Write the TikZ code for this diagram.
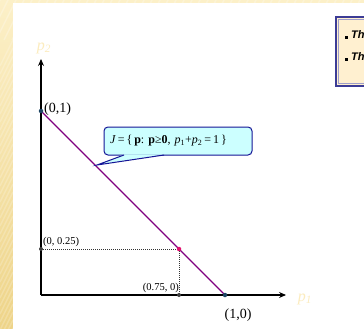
\documentclass[tikz,border=0pt]{standalone}
\usepackage{fontspec}
\setmainfont{Liberation Serif}
\newfontfamily\boxsans{Liberation Sans}
\usetikzlibrary{arrows.meta}
\frenchspacing
\definecolor{goldlight}{RGB}{252,240,200}
\definecolor{golddark}{RGB}{238,212,136}
\definecolor{paletxt}{RGB}{252,236,190}
\definecolor{linepurple}{RGB}{128,0,128}
\definecolor{ptmag}{RGB}{224,16,110}
\definecolor{ptteal}{RGB}{30,70,100}
\definecolor{calloutfill}{RGB}{204,255,255}
\definecolor{calloutdraw}{RGB}{20,20,150}
\definecolor{boxfill}{RGB}{255,240,208}
\definecolor{boxdraw}{RGB}{60,60,150}
\tikzset{
  axis/.style={line width=1.2pt,-{Stealth[length=7pt,width=6pt,inset=2.5pt]}},
  segline/.style={linepurple,line width=1.4pt},
  guide/.style={dash pattern=on 1pt off 1pt,line width=1pt,black!80},
  dotpt/.style={circle,inner sep=0pt,minimum size=4.5pt},
  lbl/.style={inner sep=1pt,font=\fontsize{14}{16}\selectfont},
  smalllbl/.style={inner sep=1pt,font=\fontsize{10.5}{12}\selectfont},
  axlbl/.style={inner sep=0pt,text=paletxt,font=\fontsize{16}{18}\selectfont\itshape},
  bullettxt/.style={anchor=west,inner sep=0pt,font=\boxsans\bfseries\itshape\fontsize{11}{13}\selectfont},
  calloutbox/.style={draw=calloutdraw,fill=calloutfill,line width=1pt,rounded corners=4pt,text width=136pt,align=left,inner xsep=6pt,minimum height=28pt,inner ysep=2pt,font=\fontsize{12}{14}\selectfont},
}
\begin{document}
\begin{tikzpicture}[x=1pt,y=-1pt]
\useasboundingbox (0,0) rectangle (364,329);
\begin{scope}
\clip (0,0) rectangle (364,329);
% background
\shade[top color=goldlight,bottom color=golddark] (0,0) rectangle (13,329);
\fill[goldlight] (13,0) rectangle (364,3);
\foreach \k in {-40,-32,...,400} {
  \draw[white,opacity=0.25,line width=1.5pt] (\k,0) -- (\k-20,40);
}
\foreach \k in {40,48,...,400} {
  \draw[white,opacity=0.2,line width=1.5pt] (13,\k) -- (0,\k+26);
}
\fill[white] (13,3) rectangle (364,329);

% top-right box
\fill[boxfill] (336,17) rectangle (370,86);
\draw[boxdraw,line width=1.3pt] (336,17) rectangle (370,86);
\draw[boxdraw!50,line width=0.5pt] (338.5,19.5) rectangle (370,83.5);
\node[bullettxt] (b1) at (345,35) {\rule{3pt}{3pt}\hspace{3pt}Th};
\node[bullettxt] (b2) at (345,57) {\rule{3pt}{3pt}\hspace{3pt}Th};
\end{scope}

% axes
\coordinate (O) at (41,295);
\coordinate (ytop) at (41,59);
\coordinate (xend) at (286,295);
\draw[axis] (O) -- (ytop);
\draw[axis] (O) -- (xend);
\node[axlbl] (p2) at (44,48) {p\textsubscript{2}};
\node[axlbl] (p1) at (305,299) {p\textsubscript{1}};

% points
\coordinate (A) at (41,111);
\coordinate (B) at (225,295);
\coordinate (M) at (179,249);
\coordinate (My) at (41,249);
\coordinate (Mx) at (179,295);

\draw[guide] (My) -- (M);
\draw[guide] (M) -- (Mx);
\draw[segline] (A) -- (B);

\node[dotpt,fill=ptteal] (pA) at (A) {};
\node[dotpt,fill=ptteal] (pB) at (B) {};
\node[dotpt,fill=ptmag] (pM) at (M) {};
\node[dotpt,fill=black!75,minimum size=4pt] (pMy) at (My) {};
\node[dotpt,fill=black!75,minimum size=4pt] (pMx) at (Mx) {};

\node[lbl,anchor=west] (lA) at (43,109) {(0,1)};
\node[lbl] (lB) at (238,315) {(1,0)};
\node[smalllbl,anchor=west] (lMy) at (42,242) {(0, 0.25)};
\node[smalllbl,anchor=east] (lMx) at (180,288) {(0.75, 0)};

% callout
\node[calloutbox] (call) at (178,141) {\textit{J}\,=\,\{\,\textbf{p}: \textbf{p}≥\textbf{0}, \textit{p}\textsubscript{1}+\textit{p}\textsubscript{2}\,=\,1\,\}};
\coordinate (tip) at (97,165);
\fill[calloutfill] (124,154.4) -- (tip) -- (164,154.4) -- cycle;
\draw[calloutdraw,line width=1pt] (124,155) -- (tip) -- (164,155);
\end{tikzpicture}
\end{document}
